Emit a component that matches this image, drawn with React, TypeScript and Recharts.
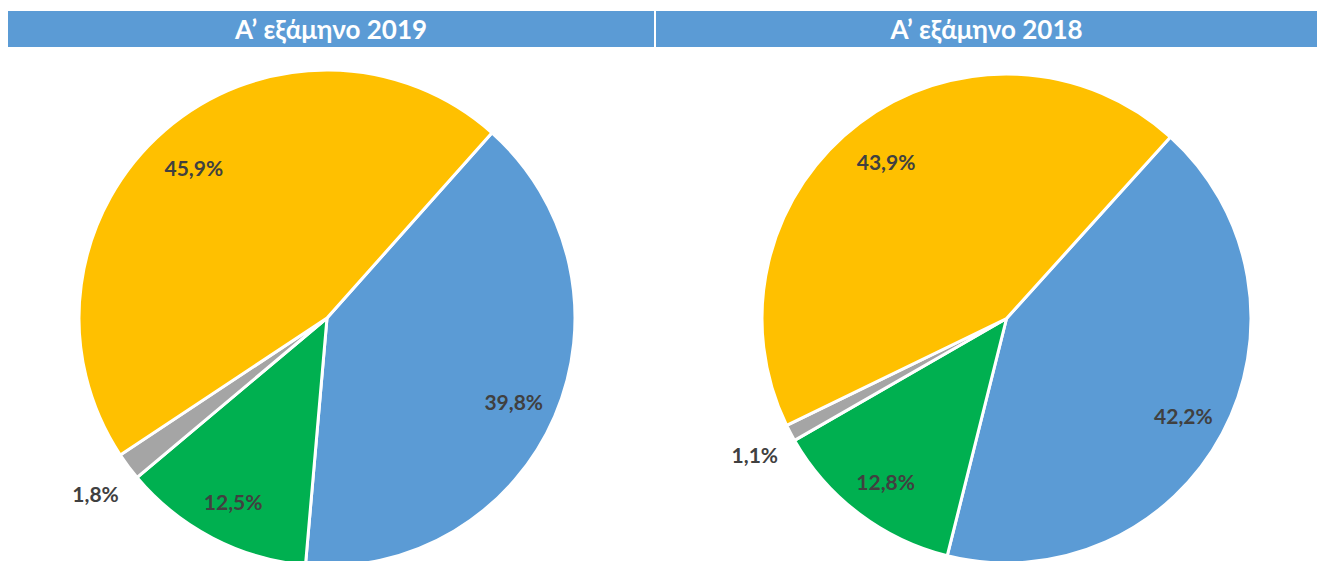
import { PieChart, Pie, Cell } from 'recharts';

const categories = ['Κατηγορία 1', 'Κατηγορία 2', 'Κατηγορία 3', 'Κατηγορία 4'];
const values2019 = [39.8, 12.5, 1.8, 45.9];
const values2018 = [42.2, 12.8, 1.1, 43.9];
const titles = ['Α’ εξάμηνο 2019', 'Α’ εξάμηνο 2018'];
const colors = ['#5B9BD5', '#00B050', '#A5A5A5', '#FFC000'];

const RADIAN = Math.PI / 180;
const FONT = 'Lato, "Open Sans", sans-serif';

function renderLabel(props: any) {
  const { cx, cy, midAngle, outerRadius, value } = props;
  const small = value < 5;
  const r = small ? outerRadius * 1.165 : outerRadius * 0.82;
  const x = cx + r * Math.cos(-midAngle * RADIAN);
  const y = cy + r * Math.sin(-midAngle * RADIAN) + 3;
  return (
    <text
      x={x}
      y={y}
      fill="#404040"
      textAnchor="middle"
      dominantBaseline="central"
      fontSize={21}
      fontWeight="bold"
      fontFamily={FONT}
    >
      {value.toFixed(1).replace('.', ',')}%
    </text>
  );
}

function SinglePie({ values, cx, cy, r, start }: { values: number[]; cx: number; cy: number; r: number; start: number }) {
  const data = categories.map((name, i) => ({ name, value: values[i] }));
  return (
    <Pie
      data={data}
      dataKey="value"
      cx={cx}
      cy={cy}
      outerRadius={r}
      startAngle={start}
      endAngle={start - 360}
      stroke="#fff"
      strokeWidth={3}
      label={renderLabel}
      labelLine={false}
      isAnimationActive={false}
    >
      {data.map((d, i) => (
        <Cell key={d.name} fill={colors[i]} />
      ))}
    </Pie>
  );
}

export default function App() {
  const bar = (left: number, width: number, text: string) => (
    <div
      style={{
        position: 'absolute',
        left,
        top: 11,
        width,
        height: 36,
        background: '#5B9BD5',
        color: '#fff',
        fontFamily: FONT,
        fontWeight: 'bold',
        fontSize: 26,
        lineHeight: '36px',
        textAlign: 'center',
      }}
    >
      {text}
    </div>
  );
  return (
    <div style={{ position: 'absolute', left: 0, top: 0, width: 1317, height: 561, overflow: 'hidden', background: '#fff' }}>
      {bar(8, 646, titles[0])}
      {bar(656, 661, titles[1])}
      <div style={{ position: 'absolute', left: 0, top: 0 }}>
        <PieChart width={1317} height={561} margin={{ top: 0, right: 0, bottom: 0, left: 0 }}>
          {SinglePie({ values: values2019, cx: 327, cy: 318, r: 248, start: 48.3 })}
          {SinglePie({ values: values2018, cx: 1006.5, cy: 318.5, r: 244.5, start: 47.9 })}
        </PieChart>
      </div>
    </div>
  );
}
